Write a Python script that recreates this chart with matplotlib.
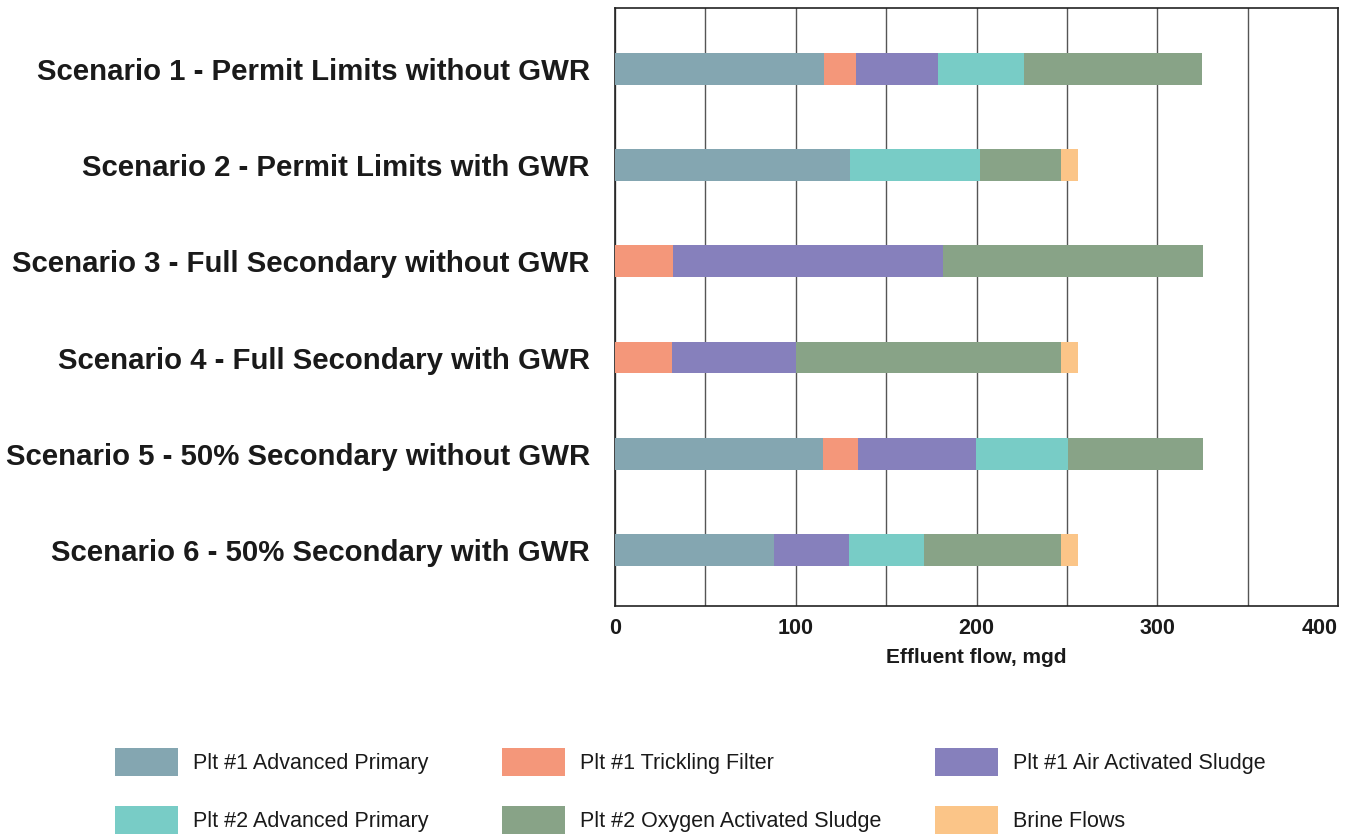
import matplotlib
matplotlib.use("Agg")
import matplotlib.pyplot as plt
from matplotlib.patches import Patch

plt.rcParams["font.family"] = ["Liberation Sans", "DejaVu Sans"]

scenarios = [
    "Scenario 1 - Permit Limits without GWR",
    "Scenario 2 - Permit Limits with GWR",
    "Scenario 3 - Full Secondary without GWR",
    "Scenario 4 - Full Secondary with GWR",
    "Scenario 5 - 50% Secondary without GWR",
    "Scenario 6 - 50% Secondary with GWR",
]

series_names = [
    "Plt #1 Advanced Primary",
    "Plt #1 Trickling Filter",
    "Plt #1 Air Activated Sludge",
    "Plt #2 Advanced Primary",
    "Plt #2 Oxygen Activated Sludge",
    "Brine Flows",
]

# effluent flow (mgd) per scenario
plt1_adv_primary = [115.5, 130.1, 0, 0, 114.8, 88.1]
plt1_trickling = [17.7, 0, 32.1, 31.8, 19.9, 0]
plt1_air_as = [45.6, 0, 149.6, 68.3, 65.1, 41.4]
plt2_adv_primary = [47.6, 71.7, 0, 0, 50.9, 41.4]
plt2_oxygen_as = [98.3, 44.7, 143.6, 146.4, 74.6, 75.6]
brine = [0, 9.4, 0, 9.4, 0, 9.4]

colors = ["#84A6B1", "#F4977A", "#8680BC", "#78CCC6", "#88A387", "#FBC588"]

fig = plt.figure(figsize=(13.51, 8.35), dpi=100)
ax = fig.add_axes([615 / 1351, 1 - 606 / 835, (1338 - 615) / 1351, (606 - 8) / 835])

ypos = list(range(len(scenarios)))
left = [0.0] * len(scenarios)
all_series = [plt1_adv_primary, plt1_trickling, plt1_air_as,
              plt2_adv_primary, plt2_oxygen_as, brine]
for vals, name, col in zip(all_series, series_names, colors):
    ax.barh(ypos, vals, left=left, height=0.33, color=col, label=name, zorder=3)
    left = [l + v for l, v in zip(left, vals)]

ax.set_xlim(0, 400)
ax.set_ylim(5.58, -0.63)
ax.set_xticks([0, 100, 200, 300, 400])
ax.set_xticks([50, 150, 250, 350], minor=True)
ax.grid(axis="x", which="both", color="#555555", linewidth=1.0, zorder=0)
ax.tick_params(axis="x", which="both", length=0, pad=9, labelsize=15.5,
               labelcolor="#1a1a1a")
ax.tick_params(axis="y", length=0, pad=18, labelsize=21.2)
for lbl in ax.get_xticklabels():
    lbl.set_fontweight("bold")
ax.get_xticklabels()[-1].set_horizontalalignment("right")
ax.set_yticks(ypos)
ax.set_yticklabels(scenarios, fontweight="bold", color="#1a1a1a")
ax.set_xlabel("Effluent flow, mgd", fontsize=15, fontweight="bold",
              color="#1a1a1a", labelpad=6)
for sp in ax.spines.values():
    sp.set_color("#222222")
    sp.set_linewidth(1.2)

# legend: one entry per legend box, placed on a 3 x 2 grid
handles = [Patch(facecolor=c, edgecolor="none") for c in colors]
col_x = [115, 502, 935]
row_y = [762, 820]
for k, (h, name) in enumerate(zip(handles, series_names)):
    x = col_x[k % 3]
    y = row_y[k // 3]
    fig.legend([h], [name], loc="center left",
               bbox_to_anchor=(x / 1351, 1 - y / 835),
               frameon=False, fontsize=15.5, handlelength=2.93,
               handleheight=1.6, handletextpad=0.7,
               borderpad=0, borderaxespad=0, labelcolor="#1a1a1a")

fig.savefig("out.png", dpi=100, facecolor="white")
